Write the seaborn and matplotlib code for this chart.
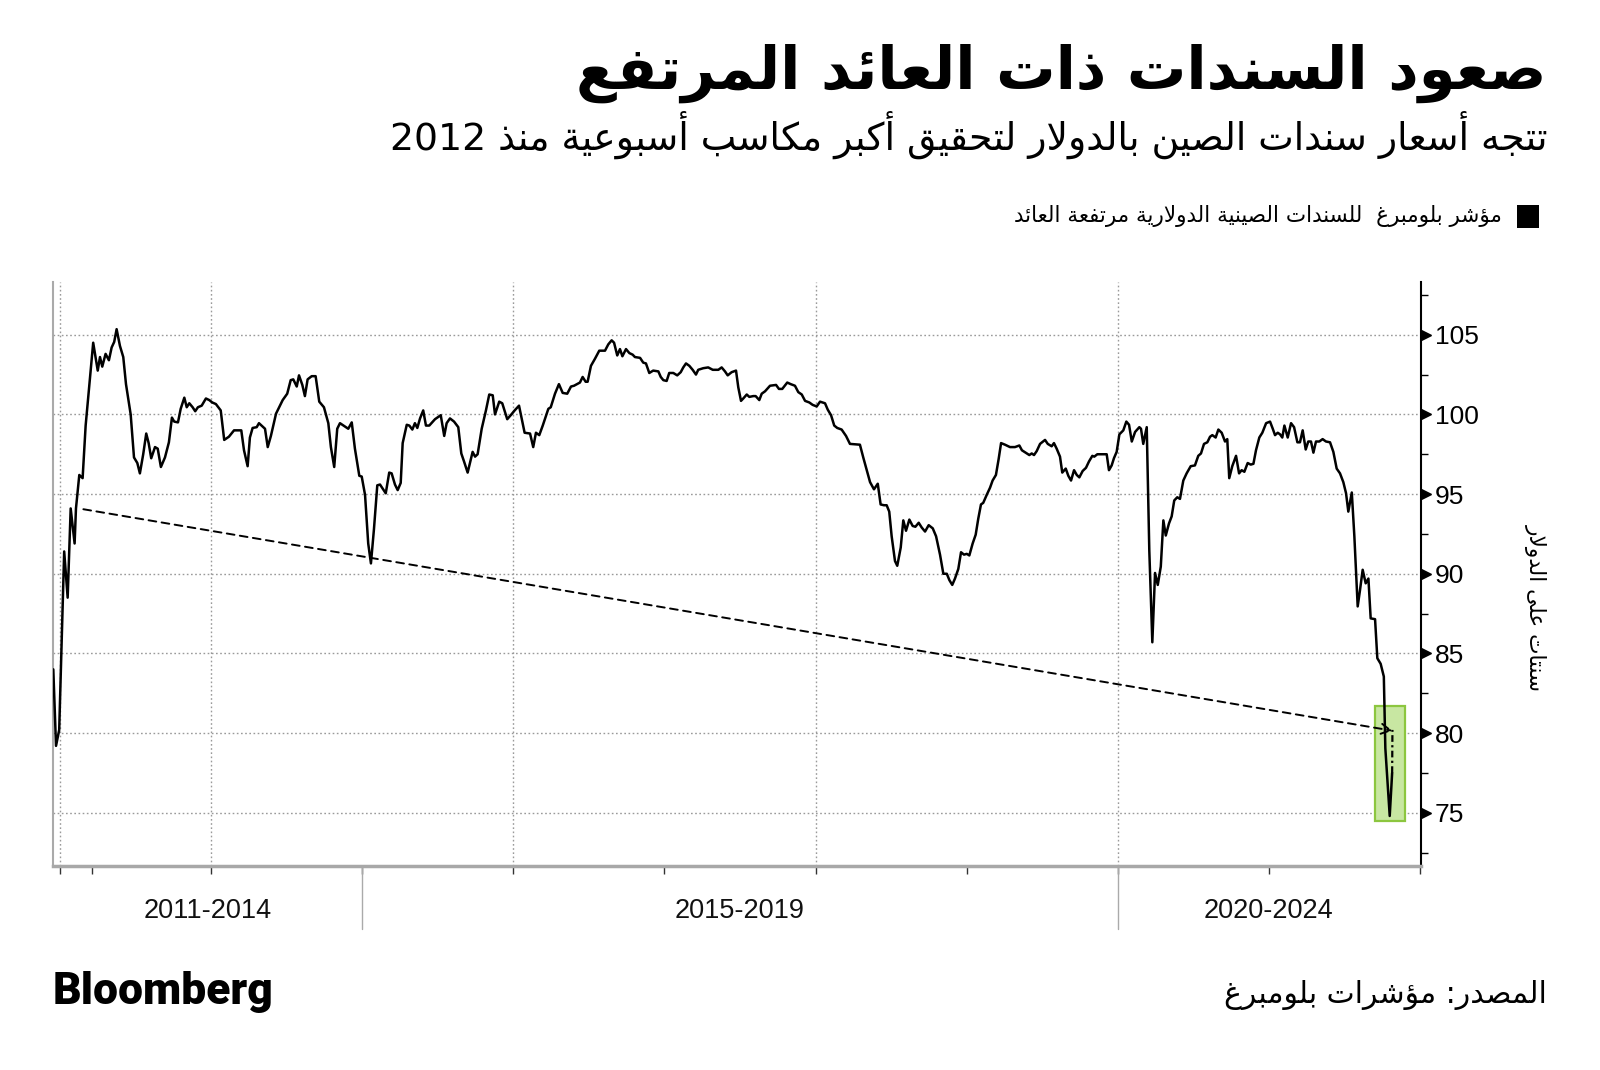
import re
import numpy as np
import pandas as pd
import matplotlib
matplotlib.use("Agg")
import matplotlib.pyplot as plt
import matplotlib.transforms as mtransforms
from matplotlib.patches import Rectangle
import seaborn as sns

# ---------------- data ----------------
title_text = "صعود السندات ذات العائد المرتفع"
subtitle_text = "تتجه أسعار سندات الصين بالدولار لتحقيق أكبر مكاسب أسبوعية منذ 2012"
legend_text = "مؤشر بلومبرغ  للسندات الصينية الدولارية مرتفعة العائد"
ylabel_text = "سنتات على الدولار"
source_text = "المصدر: مؤشرات بلومبرغ"
logo_text = "Bloomberg"

group_labels = ["2011-2014", "2015-2019", "2020-2024"]
group_centers = [0.98, 4.5, 8.0]
group_separators = [2, 7]

y_ticks = [75, 80, 85, 90, 95, 100, 105]
y_minor = [72.5, 77.5, 82.5, 87.5, 92.5, 97.5, 102.5, 107.5]
x_ticks = [0, 0.21, 1, 2, 3, 4, 5, 6, 7, 8, 9]
x_grid = [0, 1, 3, 5, 7]

# time position in years from first gridline, index price (cents on the dollar)
t_pos = [-0.044, -0.026, -0.005, 0.011, 0.028, 0.051, 0.071, 0.097, 0.106, 0.128, 0.150, 0.170,
         0.194, 0.220, 0.250, 0.265, 0.280, 0.302, 0.324, 0.342, 0.359, 0.375, 0.397, 0.419,
         0.437, 0.468, 0.490, 0.512, 0.529, 0.551, 0.571, 0.587, 0.604, 0.629, 0.647, 0.668,
         0.695, 0.721, 0.741, 0.756, 0.781, 0.799, 0.823, 0.839, 0.856, 0.878, 0.895, 0.913,
         0.938, 0.966, 0.988, 1.008, 1.032, 1.064, 1.087, 1.118, 1.152, 1.173, 1.200, 1.218,
         1.242, 1.257, 1.275, 1.302, 1.317, 1.357, 1.375, 1.396, 1.430, 1.474, 1.504, 1.527,
         1.544, 1.567, 1.582, 1.604, 1.621, 1.639, 1.666, 1.692, 1.716,
         1.747, 1.776, 1.793, 1.815, 1.835, 1.853, 1.908, 1.931, 1.952, 1.981, 1.997, 2.019,
         2.040, 2.058, 2.078, 2.100, 2.118, 2.156, 2.179, 2.195, 2.217, 2.235, 2.255, 2.268,
         2.295, 2.312, 2.332, 2.349, 2.365, 2.383, 2.404, 2.422, 2.444, 2.482, 2.520, 2.543,
         2.559, 2.581, 2.608, 2.636, 2.656, 2.674, 2.698, 2.731, 2.747, 2.764, 2.791, 2.819,
         2.841, 2.864, 2.879, 2.907, 2.927, 2.960, 2.983, 3.009, 3.038, 3.060, 3.075, 3.111,
         3.132, 3.150, 3.172, 3.195, 3.232, 3.248, 3.276, 3.302, 3.327, 3.357, 3.382, 3.402,
         3.441, 3.459, 3.479, 3.492, 3.514, 3.541, 3.569,
         3.607, 3.629, 3.651, 3.667, 3.688, 3.706, 3.722, 3.746, 3.768, 3.790, 3.805, 3.839,
         3.860, 3.878, 3.900, 3.926, 3.960, 3.976, 3.993, 4.015, 4.032, 4.059, 4.085, 4.108,
         4.125, 4.143, 4.165, 4.187, 4.209, 4.224, 4.257, 4.290, 4.320, 4.357, 4.379, 4.401,
         4.419, 4.445, 4.474, 4.489, 4.507, 4.522, 4.545, 4.562, 4.588, 4.604, 4.628, 4.644,
         4.666, 4.699, 4.739, 4.758, 4.780, 4.813, 4.836, 4.864, 4.886, 4.909, 4.931, 4.959,
         4.981, 5.008, 5.030, 5.063, 5.081, 5.103, 5.124, 5.144, 5.173, 5.202, 5.228, 5.294,
         5.316, 5.339, 5.361, 5.387, 5.412, 5.431, 5.453, 5.471, 5.488, 5.504, 5.526, 5.541,
         5.564, 5.581, 5.599, 5.621, 5.643, 5.661, 5.683, 5.703, 5.725, 5.749, 5.776, 5.798,
         5.824, 5.846, 5.869, 5.886, 5.905, 5.923, 5.945, 5.963, 5.983, 6.001, 6.018, 6.040,
         6.060, 6.077, 6.095, 6.110, 6.133, 6.155, 6.172, 6.194, 6.212, 6.228, 6.254, 6.287,
         6.320, 6.349, 6.366, 6.398, 6.415, 6.431, 6.446, 6.464, 6.486, 6.519, 6.537, 6.563,
         6.578, 6.596, 6.618, 6.633, 6.656, 6.673, 6.691, 6.711, 6.729, 6.746, 6.768, 6.790,
         6.810, 6.832, 6.845, 6.865, 6.887, 6.927, 6.942, 6.960, 6.975, 6.993, 7.011, 7.037,
         7.057, 7.075, 7.093, 7.115, 7.143,
         7.154, 7.169, 7.192, 7.209, 7.229, 7.247, 7.265, 7.285, 7.302, 7.318, 7.339, 7.357,
         7.374, 7.394, 7.412, 7.434, 7.456, 7.483, 7.511, 7.533, 7.551, 7.571, 7.593, 7.611,
         7.626, 7.648, 7.666, 7.688, 7.710, 7.725, 7.738, 7.758, 7.783, 7.803, 7.820, 7.838,
         7.860, 7.880, 7.898, 7.915, 7.937, 7.957, 7.982, 8.008, 8.026, 8.041, 8.059, 8.074,
         8.089, 8.103, 8.125, 8.147, 8.167, 8.189, 8.206, 8.224, 8.244, 8.261, 8.279, 8.295,
         8.312, 8.334, 8.356, 8.378, 8.405, 8.427, 8.449, 8.471, 8.493, 8.511, 8.526, 8.549,
         8.566, 8.588, 8.603, 8.621, 8.641, 8.659, 8.674, 8.703, 8.718, 8.740, 8.761, 8.771,
         8.800, 8.816]

index_values = [84.0, 79.2, 80.2, 85.6, 91.4, 88.5, 94.1, 91.9, 94.1, 96.2, 96.0, 99.3,
                101.8, 104.5, 102.75, 103.6, 103.0, 103.8, 103.4, 104.2, 104.55, 105.35, 104.3, 103.6,
                101.9, 100.0, 97.3, 96.95, 96.3, 97.5, 98.8, 98.2, 97.25, 97.95, 97.85, 96.7,
                97.3, 98.25, 99.8, 99.55, 99.5, 100.35, 101.05, 100.45, 100.7, 100.45, 100.2, 100.45,
                100.55, 101.0, 100.9, 100.75, 100.65, 100.25, 98.4, 98.6, 99.0, 99.0, 99.0, 97.75,
                96.75, 98.55, 99.15, 99.2, 99.45, 99.1, 97.95, 98.65, 100.05, 100.9, 101.3, 102.15,
                102.2, 101.75, 102.45, 101.85, 101.15, 102.2, 102.4, 102.4, 100.8,
                100.45, 99.45, 97.95, 96.7, 99.1, 99.45, 99.1, 99.5, 97.85, 96.15, 96.1, 94.95,
                91.9, 90.65, 92.8, 95.55, 95.6, 95.05, 96.35, 96.3, 95.6, 95.25, 95.7, 98.2,
                99.35, 99.3, 99.05, 99.45, 99.15, 99.75, 100.25, 99.3, 99.3, 99.7, 99.95, 98.65,
                99.45, 99.75, 99.55, 99.2, 97.55, 97.05, 96.35, 97.65, 97.35, 97.5, 99.1, 100.25,
                101.25, 101.2, 100.0, 100.8, 100.7, 99.7, 99.95, 100.25, 100.55, 99.55, 98.85, 98.8,
                97.95, 98.85, 98.7, 99.3, 100.35, 100.45, 101.3, 101.9, 101.35, 101.3, 101.75, 101.8,
                102.0, 102.35, 102.05, 102.05, 103.05, 103.5, 104.0,
                104.0, 104.4, 104.65, 104.5, 103.7, 104.1, 103.65, 104.1, 103.85, 103.75, 103.6, 103.55,
                103.25, 103.2, 102.6, 102.75, 102.7, 102.35, 102.15, 102.1, 102.6, 102.6, 102.45, 102.65,
                102.95, 103.2, 103.05, 102.8, 102.5, 102.8, 102.9, 102.95, 102.8, 102.8, 102.95, 102.7,
                102.45, 102.65, 102.75, 101.7, 100.85, 101.0, 101.25, 101.1, 101.15, 101.15, 100.9, 101.3,
                101.45, 101.8, 101.85, 101.6, 101.6, 102.0, 101.9, 101.8, 101.4, 101.25, 100.85, 100.75,
                100.6, 100.5, 100.8, 100.7, 100.3, 99.95, 99.3, 99.15, 99.05, 98.65, 98.15, 98.1,
                97.3, 96.5, 95.75, 95.3, 95.65, 94.35, 94.3, 94.3, 93.9, 92.35, 90.8, 90.5,
                91.65, 93.35, 92.7, 93.4, 93.0, 92.95, 93.2, 92.9, 92.65, 93.05, 92.85, 92.35,
                91.2, 90.0, 90.0, 89.6, 89.3, 89.7, 90.3, 91.35, 91.2, 91.25, 91.15, 91.9,
                92.45, 93.45, 94.35, 94.45, 94.95, 95.4, 95.85, 96.2, 97.2, 98.2, 98.1, 97.95,
                97.95, 98.05, 97.75, 97.55, 97.45, 97.55, 97.45, 97.7, 98.15, 98.4, 98.15, 98.0,
                98.2, 97.85, 97.35, 96.35, 96.6, 96.15, 95.85, 96.5, 96.2, 96.05, 96.45, 96.65,
                97.05, 97.4, 97.35, 97.5, 97.5, 97.5, 96.5, 96.8, 97.25, 97.65, 98.75, 99.0,
                99.55, 99.35, 98.3, 98.9, 99.2,
                99.1, 98.15, 99.2, 91.45, 85.7, 90.05, 89.3, 90.45, 93.35, 92.4, 93.15, 93.6,
                94.6, 94.8, 94.7, 95.85, 96.3, 96.75, 96.8, 97.4, 97.55, 98.15, 98.25, 98.6,
                98.7, 98.55, 99.05, 98.85, 98.3, 98.45, 96.0, 96.75, 97.4, 96.3, 96.5, 96.4,
                96.95, 96.85, 96.9, 97.75, 98.55, 98.85, 99.45, 99.55, 99.1, 98.7, 98.85, 98.75,
                98.55, 99.3, 98.55, 99.45, 99.2, 98.25, 98.25, 99.0, 97.8, 98.3, 98.3, 97.6,
                98.3, 98.3, 98.45, 98.3, 98.25, 97.65, 96.6, 96.3, 95.75, 95.05, 93.9, 95.1,
                92.35, 87.95, 88.95, 90.25, 89.4, 89.7, 87.2, 87.15, 84.7, 84.35, 83.55, 79.05,
                74.8, 77.5]

rebound_t = [8.816, 8.818]
rebound_v = [77.5, 80.2]
trend_t = [0.155, 8.818]
trend_v = [94.05, 80.15]
box_t = [8.703, 8.903]
box_v = [74.5, 81.7]

# ---------------- Arabic shaping (presentation forms + visual order) ----------------
DUAL = {'ئ': 0xFE89, 'ب': 0xFE8F, 'ت': 0xFE95, 'ث': 0xFE99, 'ج': 0xFE9D, 'ح': 0xFEA1,
        'خ': 0xFEA5, 'س': 0xFEB1, 'ش': 0xFEB5, 'ص': 0xFEB9, 'ض': 0xFEBD, 'ط': 0xFEC1,
        'ظ': 0xFEC5, 'ع': 0xFEC9, 'غ': 0xFECD, 'ف': 0xFED1, 'ق': 0xFED5, 'ك': 0xFED9,
        'ل': 0xFEDD, 'م': 0xFEE1, 'ن': 0xFEE5, 'ه': 0xFEE9, 'ي': 0xFEF1}
RIGHT = {'آ': 0xFE81, 'أ': 0xFE83, 'ؤ': 0xFE85, 'إ': 0xFE87, 'ا': 0xFE8D, 'ة': 0xFE93,
         'د': 0xFEA9, 'ذ': 0xFEAB, 'ر': 0xFEAD, 'ز': 0xFEAF, 'و': 0xFEED, 'ى': 0xFEEF}
LAMALEF = {'آ': 0xFEF5, 'أ': 0xFEF7, 'إ': 0xFEF9, 'ا': 0xFEFB}


def ar(s):
    toks = []
    i = 0
    while i < len(s):
        c = s[i]
        if c == 'ل' and i + 1 < len(s) and s[i + 1] in LAMALEF:
            toks.append(('R', LAMALEF[s[i + 1]], None))
            i += 2
            continue
        if c in DUAL:
            toks.append(('D', DUAL[c], None))
        elif c in RIGHT:
            toks.append(('R', RIGHT[c], None))
        else:
            toks.append(('N', None, c))
        i += 1
    out = []
    for k, (jt, base, ch) in enumerate(toks):
        if jt == 'N':
            out.append(ch)
            continue
        prev = toks[k - 1][0] if k > 0 else 'N'
        nxt = toks[k + 1][0] if k + 1 < len(toks) else 'N'
        jp = prev == 'D'
        jn = jt == 'D' and nxt in ('D', 'R')
        if jt == 'R':
            out.append(chr(base + (1 if jp else 0)))
        else:
            off = 3 if (jp and jn) else 1 if jp else 2 if jn else 0
            out.append(chr(base + off))
    vis = ''.join(out)[::-1]
    vis = re.sub(r'[0-9A-Za-z]+', lambda m: m.group(0)[::-1], vis)
    return vis


# ---------------- figure ----------------
sns.set_theme(style="white")
plt.rcParams['font.family'] = ['DejaVu Sans']

W, H = 1600, 1070
fig = plt.figure(figsize=(W / 100, H / 100), dpi=100)
fig.patch.set_facecolor('white')
ax = fig.add_axes([53 / W, 1 - 866 / H, (1421 - 53) / W, (866 - 282) / H])
ax.set_facecolor('white')

grid_kw = dict(color='#9a9a9a', lw=1.0, ls=(0, (1.2, 1.8)), zorder=1)
for yv in y_ticks:
    ax.axhline(yv, **grid_kw)
for xv in x_grid:
    ax.axvline(xv, **grid_kw)

ax.add_patch(Rectangle((box_t[0], box_v[0]), box_t[1] - box_t[0], box_v[1] - box_v[0],
                       facecolor='#c8e7a2', edgecolor='#8cc63f', lw=1.6, zorder=2))

df = pd.DataFrame({'t': t_pos, 'v': index_values})
sns.lineplot(data=df, x='t', y='v', ax=ax, color='black', linewidth=1.8,
             estimator=None, sort=False, zorder=4)
ax.plot(rebound_t, rebound_v, color='black', lw=1.6, ls=(0, (3, 1.5, 1, 1.5)), zorder=4)

ax.annotate('', xy=(trend_t[1], trend_v[1]), xytext=(trend_t[0], trend_v[0]),
            arrowprops=dict(arrowstyle='->,head_length=0.55,head_width=0.3',
                            linestyle=(0, (4, 2.8)), color='black', lw=1.4,
                            shrinkA=0, shrinkB=0), zorder=5)

ax.set_xlim(-0.046, 9.007)
ax.set_ylim(71.66, 108.31)
ax.set_xlabel('')
ax.set_ylabel('')

ax.yaxis.tick_right()
ax.set_yticks(y_ticks)
ax.set_yticks(y_minor, minor=True)
ax.set_yticklabels([str(v) for v in y_ticks],
                   fontfamily=['Liberation Sans Narrow', 'Liberation Sans', 'DejaVu Sans'])
ax.tick_params(axis='y', which='major', length=0, pad=10, labelsize=19, labelcolor='black',
               right=True, left=False)
ax.tick_params(axis='y', which='minor', length=5, width=1, color='black', direction='out',
               right=True, left=False)
ax.set_xticks(x_ticks)
ax.set_xticklabels([])
ax.tick_params(axis='x', which='major', length=6, width=1, color='#333333', direction='out',
               bottom=True)

tri_tr = mtransforms.offset_copy(ax.get_yaxis_transform(), fig=fig, x=3.6, y=0, units='points')
ax.plot([1] * len(y_ticks), y_ticks, ls='none', marker='>', ms=7, color='black',
        transform=tri_tr, clip_on=False, zorder=6)

for side in ['top']:
    ax.spines[side].set_visible(False)
ax.spines['right'].set_color('black')
ax.spines['right'].set_linewidth(1.5)
ax.spines['left'].set_color('#aaaaaa')
ax.spines['left'].set_linewidth(1.5)
ax.spines['bottom'].set_color('#a8a8a8')
ax.spines['bottom'].set_linewidth(2.5)

xtr = ax.get_xaxis_transform()
for s in group_separators:
    ax.plot([s, s], [0, -0.108], color='#aaaaaa', lw=1, transform=xtr, clip_on=False)
for lab, c in zip(group_labels, group_centers):
    ax.text(c, -0.077, lab, transform=xtr, ha='center', va='center', fontsize=19.5,
            fontfamily=['Liberation Sans', 'DejaVu Sans'], color='#111111')

# ---------------- texts ----------------
t_title = fig.text(1547 / W, 1 - 73 / H, ar(title_text), ha='right', va='center',
                   fontsize=40, fontweight='bold', color='black')
t_sub = fig.text(1547 / W, 1 - 135 / H, ar(subtitle_text), ha='right', va='center',
                 fontsize=26, color='black')
t_leg = fig.text(1502 / W, 1 - 216 / H, ar(legend_text), ha='right', va='center',
                 fontsize=14, color='black')
fig.patches.append(Rectangle((1517 / W, 1 - 228 / H), 22 / W, 23 / H, transform=fig.transFigure,
                             facecolor='black', edgecolor='none'))
t_src = fig.text(1547 / W, 1 - 995 / H, ar(source_text), ha='right', va='center',
                 fontsize=20, color='black')
t_logo = fig.text(53 / W, 1 - 992 / H, logo_text, ha='left', va='center', fontsize=30,
                  fontweight='heavy', fontfamily=['Roboto', 'Liberation Sans', 'DejaVu Sans'],
                  color='black')
t_ylab = fig.text(1536 / W, 1 - 607 / H, ar(ylabel_text), ha='center', va='center',
                  rotation=270, fontsize=14, color='black')

fig.canvas.draw()
rend = fig.canvas.get_renderer()
for txt, target, dim in [(t_title, 970, 'w'), (t_sub, 1159, 'w'), (t_leg, 495, 'w'),
                         (t_src, 323, 'w'), (t_logo, 220, 'w'), (t_ylab, 169, 'h')]:
    bb = txt.get_window_extent(rend)
    cur = bb.width if dim == 'w' else bb.height
    txt.set_fontsize(txt.get_fontsize() * target / cur)

fig.savefig('out.png', dpi=100, facecolor='white')
